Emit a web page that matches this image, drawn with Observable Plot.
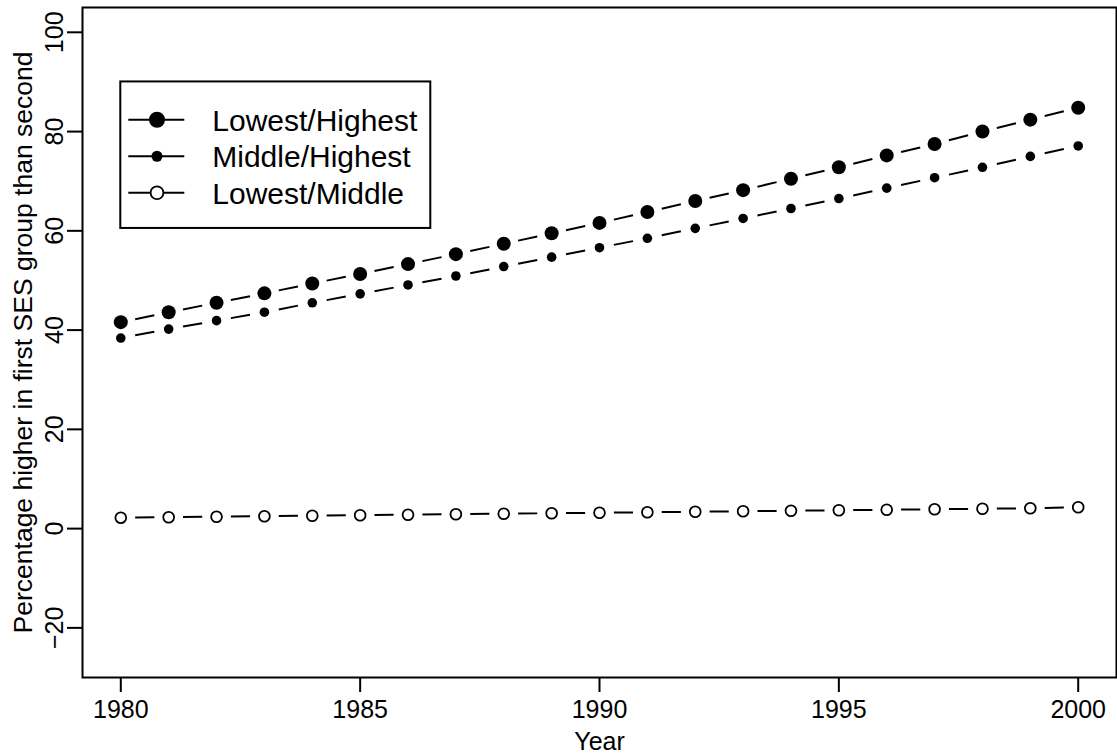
<!DOCTYPE html>
<html>
<head>
<meta charset="utf-8">
<script src="https://cdn.jsdelivr.net/npm/d3@7"></script>
<script src="https://cdn.jsdelivr.net/npm/@observablehq/plot@0.6"></script>
<style>
  html, body { margin: 0; padding: 0; background: #fff; }
  #chart svg { display: block; }
</style>
</head>
<body>
<div id="chart"></div>
<script>
// ---- data ----
const years = [1980,1981,1982,1983,1984,1985,1986,1987,1988,1989,1990,1991,1992,1993,1994,1995,1996,1997,1998,1999,2000];
const lowestHighest = [41.6,43.6,45.5,47.4,49.4,51.3,53.3,55.3,57.4,59.5,61.6,63.8,66.0,68.2,70.5,72.8,75.2,77.5,80.0,82.4,84.8];
const middleHighest = [38.4,40.2,41.9,43.6,45.5,47.3,49.1,50.9,52.8,54.7,56.6,58.5,60.5,62.5,64.5,66.5,68.6,70.7,72.8,75.0,77.1];
const lowestMiddle  = [2.2,2.3,2.4,2.5,2.6,2.7,2.8,2.9,3.0,3.1,3.2,3.3,3.4,3.5,3.6,3.7,3.8,3.9,4.0,4.1,4.3];
const seriesNames = ["Lowest/Highest", "Middle/Highest", "Lowest/Middle"];
const xTicks = [1980, 1985, 1990, 1995, 2000];
const yTicks = [-20, 0, 20, 40, 60, 80, 100];
const yLimits = [-25, 100];
const xLabel = "Year";
const yLabel = "Percentage higher in first SES group than second";
const legendAnchor = {x: 1980, y: 90};

// ---- derived tables ----
const seriesValues = [lowestHighest, middleHighest, lowestMiddle];
const points = seriesNames.flatMap((s, k) => years.map((x, i) => ({series: s, x, y: seriesValues[k][i]})));
const gapFrac = 0.3; // R type="b": segments with gaps around points
const segments = seriesNames.flatMap((s, k) => years.slice(0, -1).map((x, i) => {
  const xa = x, xb = years[i + 1], ya = seriesValues[k][i], yb = seriesValues[k][i + 1];
  return {series: s,
    x1: xa + gapFrac * (xb - xa), y1: ya + gapFrac * (yb - ya),
    x2: xb - gapFrac * (xb - xa), y2: yb - gapFrac * (yb - ya)};
}));
const ext = ([a, b]) => [a - 0.04 * (b - a), b + 0.04 * (b - a)];
const xDomain = ext(d3.extent(years));
const yDomain = ext(yLimits);

const symbolStyles = {
  "Lowest/Highest": {r: 7.0, fill: "black", stroke: "none", lr: 8.0},
  "Middle/Highest": {r: 4.8, fill: "black", stroke: "none", lr: 5.5},
  "Lowest/Middle":  {r: 5.4, fill: "white", stroke: "black", lr: 6.4}
};
const FONT = "'Liberation Sans', Arial, Helvetica, sans-serif";

function legendMark(index, scales, values, dimensions, context) {
  const x0 = scales.x(legendAnchor.x), y0 = scales.y(legendAnchor.y);
  const g = d3.create("svg:g");
  g.append("rect").attr("x", x0).attr("y", y0).attr("width", 310).attr("height", 146.5)
    .attr("fill", "white").attr("stroke", "black").attr("stroke-width", 2);
  seriesNames.forEach((s, i) => {
    const cy = y0 + 38.3 + i * 36.5;
    const st = symbolStyles[s];
    g.append("line").attr("x1", x0 + 8).attr("x2", x0 + 64).attr("y1", cy).attr("y2", cy)
      .attr("stroke", "black").attr("stroke-width", 2);
    g.append("circle").attr("cx", x0 + 36.7).attr("cy", cy).attr("r", st.lr)
      .attr("fill", st.fill).attr("stroke", st.stroke === "none" ? null : st.stroke)
      .attr("stroke-width", 1.8);
    g.append("text").attr("x", x0 + 92).attr("y", cy).attr("dy", "0.36em")
      .attr("text-anchor", "start")
      .attr("font-family", FONT).attr("font-size", 30).attr("fill", "black").text(s);
  });
  return g.node();
}

const chart = Plot.plot({
  width: 1117,
  height: 754,
  marginLeft: 82,
  marginRight: 1,
  marginTop: 7,
  marginBottom: 77,
  style: {fontFamily: FONT, fontSize: "25px", background: "white", color: "black"},
  x: {domain: xDomain},
  y: {domain: yDomain},
  marks: [
    Plot.link(segments, {x1: "x1", y1: "y1", x2: "x2", y2: "y2", stroke: "black", strokeWidth: 2}),
    ...seriesNames.map(s => Plot.dot(points.filter(d => d.series === s), {
      x: "x", y: "y", r: symbolStyles[s].r, fill: symbolStyles[s].fill,
      stroke: symbolStyles[s].stroke, strokeWidth: 1.8
    })),
    Plot.frame({stroke: "black", strokeWidth: 2}),
    Plot.axisX({ticks: xTicks, tickSize: 15, tickPadding: 8, strokeWidth: 2, fontSize: 25,
      tickFormat: d => String(d), label: null}),
    Plot.axisY({ticks: yTicks, tickSize: 15, tickPadding: 5, tickRotate: -90, strokeWidth: 2, fontSize: 25,
      tickFormat: d3.format("d"), label: null}),
    Plot.text([xLabel], {frameAnchor: "bottom", dy: 64, text: d => d, fontSize: 25, lineAnchor: "middle", textAnchor: "middle"}),
    Plot.text([yLabel], {frameAnchor: "left", dx: -59, rotate: -90, text: d => d, fontSize: 26.5, lineAnchor: "middle", textAnchor: "middle"}),
    legendMark
  ]
});
document.getElementById("chart").appendChild(chart);
</script>
</body>
</html>
